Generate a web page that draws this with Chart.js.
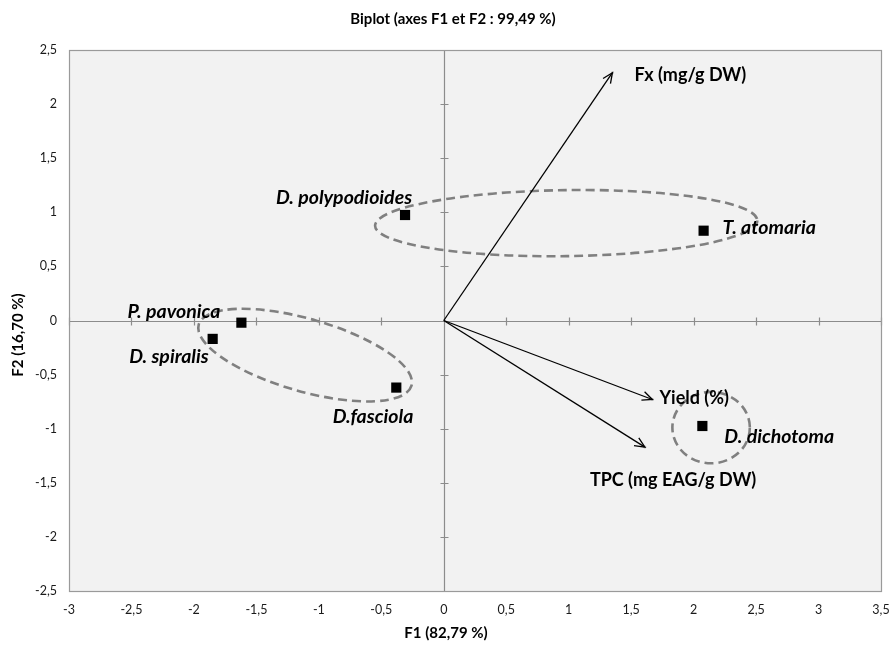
<!DOCTYPE html>
<html><head><meta charset="utf-8">
<script src="https://cdn.jsdelivr.net/npm/chart.js@4.4.0/dist/chart.umd.min.js"></script>
<style>html,body{margin:0;padding:0;background:#fff}canvas{display:block}</style>
</head><body>
<canvas id="c" width="891" height="645"></canvas>
<script>
// ---- data ----
const obsNames = ['D. polypodioides', 'T. atomaria', 'P. pavonica', 'D. spiralis', 'D.fasciola', 'D. dichotoma'];
const obsF1 = [-0.31, 2.08, -1.62, -1.85, -0.38, 2.07];
const obsF2 = [0.975, 0.83, -0.02, -0.17, -0.62, -0.975];
const varNames = ['Fx (mg/g DW)', 'Yield (%)', 'TPC (mg EAG/g DW)'];
const varF1 = [1.35, 1.67, 1.61];
const varF2 = [2.29, -0.73, -1.17];
const groupCx = [0.98, -1.11, 2.14];
const groupCy = [0.90, -0.32, -0.99];
const groupRx = [1.53, 0.886, 0.31];
const groupRy = [0.305, 0.335, 0.33];
const groupAngleDeg = [-0.8, 16, 0];
const xMin = -3, xMax = 3.5, yMin = -2.5, yMax = 2.5, tickStep = 0.5;
const titleText = 'Biplot (axes F1 et F2 : 99,49 %)';
const xTitle = 'F1 (82,79 %)';
const yTitle = 'F2 (16,70 %)';

// ---- label placement (pixels, relative to mark) ----
const obsLabelPos = [
  {dx: 7, dy: -17, align: 'right'},
  {dx: 19, dy: -3, align: 'left'},
  {dx: -21, dy: -11, align: 'right'},
  {dx: -4, dy: 18, align: 'right'},
  {dx: 17, dy: 29, align: 'right'},
  {dx: 22, dy: 11, align: 'left'}
];
const varLabelPos = [
  {dx: 22, dy: 2, align: 'left'},
  {dx: 7, dy: -1, align: 'left'},
  {dx: -55, dy: 33, align: 'left'}
];

const FONT = 'Lato, "Open Sans", sans-serif';
const fmt = v => String(Math.round(v * 100) / 100).replace('.', ',');

const datasets = [];
datasets.push({
  label: 'obs',
  data: obsF1.map((x, i) => ({x, y: obsF2[i]})),
  pointStyle: 'rect', pointRadius: 7.2, pointBackgroundColor: '#000', pointBorderColor: '#000',
  pointBorderWidth: 0, showLine: false, order: 0
});
varF1.forEach((x, i) => {
  datasets.push({
    label: varNames[i], type: 'line',
    data: [{x: 0, y: 0}, {x, y: varF2[i]}],
    borderColor: '#000', borderWidth: 1.3, showLine: true, fill: false,
    pointRadius: [0, 1.5], pointBackgroundColor: '#bbb', pointBorderWidth: 0, order: 1
  });
});

const decor = {
  id: 'decor',
  beforeDraw(chart) {
    const {ctx, chartArea: a} = chart;
    ctx.save();
    ctx.fillStyle = '#f2f2f2';
    ctx.fillRect(a.left, a.top, a.right - a.left, a.bottom - a.top);
    ctx.restore();
  },
  beforeDatasetsDraw(chart) {
    const {ctx, chartArea: a, scales: {x, y}} = chart;
    ctx.save();
    ctx.strokeStyle = '#8c8c8c'; ctx.lineWidth = 1.2;
    const x0 = Math.round(x.getPixelForValue(0)) + 0.5, y0 = Math.round(y.getPixelForValue(0)) + 0.5;
    ctx.beginPath();
    ctx.moveTo(x0, a.top); ctx.lineTo(x0, a.bottom);
    ctx.moveTo(a.left, y0); ctx.lineTo(a.right, y0);
    for (let v = yMin; v <= yMax + 1e-9; v += tickStep) {
      const py = Math.round(y.getPixelForValue(v)) + 0.5;
      ctx.moveTo(x0 - 4, py); ctx.lineTo(x0 + 4, py);
    }
    for (let v = xMin; v <= xMax + 1e-9; v += tickStep) {
      const px = Math.round(x.getPixelForValue(v)) + 0.5;
      ctx.moveTo(px, y0 - 4); ctx.lineTo(px, y0 + 4);
    }
    ctx.stroke();
    ctx.strokeStyle = '#808080'; ctx.lineWidth = 2.6; ctx.setLineDash([9, 5]);
    groupCx.forEach((cx, i) => {
      const px = x.getPixelForValue(cx), py = y.getPixelForValue(groupCy[i]);
      const rx = Math.abs(x.getPixelForValue(cx + groupRx[i]) - px);
      const ry = Math.abs(y.getPixelForValue(groupCy[i] + groupRy[i]) - py);
      ctx.beginPath();
      ctx.ellipse(px, py, rx, ry, groupAngleDeg[i] * Math.PI / 180, 0, Math.PI * 2);
      ctx.stroke();
    });
    ctx.restore();
  },
  afterDatasetsDraw(chart) {
    const {ctx, scales: {x, y}} = chart;
    ctx.save();
    ctx.strokeStyle = '#000'; ctx.lineWidth = 1.3;
    varF1.forEach((vx, i) => {
      const ox = x.getPixelForValue(0), oy = y.getPixelForValue(0);
      const ex = x.getPixelForValue(vx), ey = y.getPixelForValue(varF2[i]);
      const ang = Math.atan2(ey - oy, ex - ox);
      const L = 11, w = 0.42;
      ctx.beginPath();
      ctx.moveTo(ex - L * Math.cos(ang - w), ey - L * Math.sin(ang - w));
      ctx.lineTo(ex, ey);
      ctx.lineTo(ex - L * Math.cos(ang + w), ey - L * Math.sin(ang + w));
      ctx.stroke();
    });
    ctx.fillStyle = '#000'; ctx.textBaseline = 'middle';
    ctx.font = 'italic bold 19.5px ' + FONT;
    obsNames.forEach((n, i) => {
      const p = obsLabelPos[i];
      ctx.textAlign = p.align;
      ctx.fillText(n, x.getPixelForValue(obsF1[i]) + p.dx, y.getPixelForValue(obsF2[i]) + p.dy);
    });
    ctx.font = 'bold 18px ' + FONT;
    varNames.forEach((n, i) => {
      const p = varLabelPos[i];
      ctx.textAlign = p.align;
      ctx.fillText(n, x.getPixelForValue(varF1[i]) + p.dx, y.getPixelForValue(varF2[i]) + p.dy);
    });
    ctx.restore();
  },
  afterDraw(chart) {
    const {ctx, chartArea: a} = chart;
    ctx.save();
    ctx.strokeStyle = '#9a9a9a'; ctx.lineWidth = 1.2;
    ctx.strokeRect(Math.round(a.left) + 0.5, Math.round(a.top) + 0.5, Math.round(a.right - a.left), Math.round(a.bottom - a.top));
    ctx.fillStyle = '#000'; ctx.textAlign = 'center'; ctx.textBaseline = 'middle';
    ctx.font = 'bold 15px ' + FONT;
    ctx.fillText(titleText, 453, 19);
    ctx.fillText(xTitle, 446, 633);
    ctx.translate(18, 335); ctx.rotate(-Math.PI / 2);
    ctx.fillText(yTitle, 0, 0);
    ctx.restore();
  }
};

new Chart(document.getElementById('c'), {
  type: 'scatter',
  data: {datasets},
  options: {
    responsive: false, animation: false, devicePixelRatio: 1,
    layout: {padding: {top: 50, right: 10, left: 0, bottom: 0}},
    plugins: {legend: {display: false}, tooltip: {enabled: false}, title: {display: false}},
    scales: {
      x: {
        type: 'linear', min: xMin, max: xMax,
        grid: {display: false, drawTicks: false}, border: {display: false},
        ticks: {stepSize: tickStep, padding: 11, color: '#1a1a1a', font: {family: FONT, size: 12.5}, callback: fmt, maxRotation: 0},
        afterFit: s => { s.height = 54; s.paddingLeft = 0; s.paddingRight = 0; }
      },
      y: {
        type: 'linear', min: yMin, max: yMax,
        grid: {display: false, drawTicks: false}, border: {display: false},
        ticks: {stepSize: tickStep, padding: 12, color: '#1a1a1a', font: {family: FONT, size: 12.5}, callback: fmt},
        afterFit: s => { s.width = 69; s.paddingTop = 0; s.paddingBottom = 0; }
      }
    }
  },
  plugins: [decor]
});
</script>
</body></html>
